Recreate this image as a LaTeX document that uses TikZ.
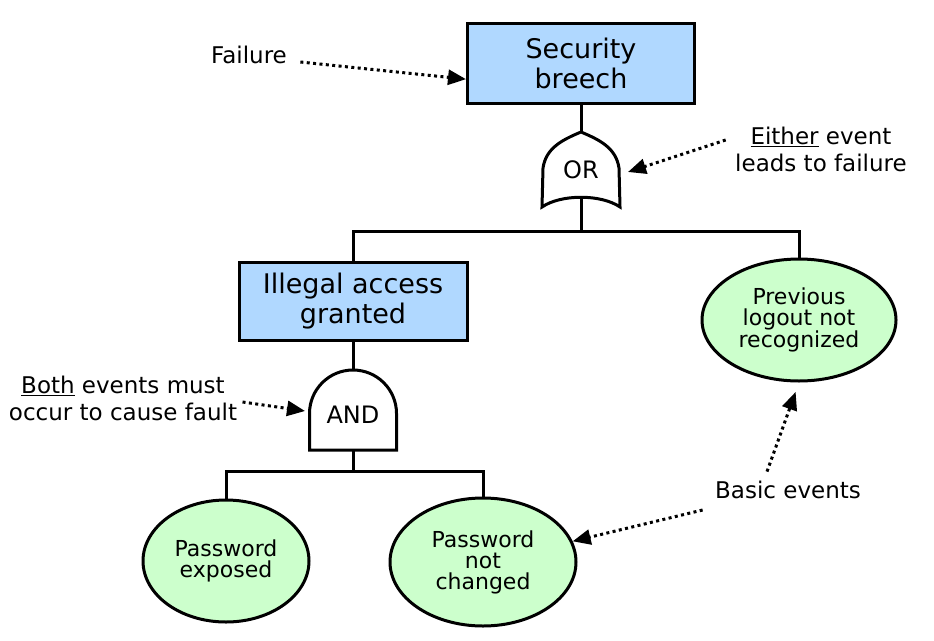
\documentclass[tikz,border=0pt]{standalone}
\usepackage{fontspec}
\setmainfont{DejaVu Sans}
\usetikzlibrary{arrows.meta,shapes.geometric}

\definecolor{eventblue}{RGB}{176,216,255}
\definecolor{basicgreen}{RGB}{204,255,204}

\tikzset{
  eventbox/.style={draw, line width=3pt, fill=eventblue, align=center, font=\fontsize{27}{30}\selectfont},
  basicevent/.style={ellipse, draw, line width=3pt, fill=basicgreen, align=center, inner sep=0pt, font=\fontsize{22}{21}\selectfont},
  gateshape/.style={draw, line width=3pt, fill=white},
  gatelabel/.style={font=\fontsize{24}{27}\selectfont},
  wire/.style={line width=3pt},
  pointer/.style={line width=3pt, dash pattern=on 3pt off 3.4pt, -{Triangle[length=18pt,width=15pt]}},
  remark/.style={align=center, font=\fontsize{23}{27}\selectfont},
}

\begin{document}
\begin{tikzpicture}[x=1pt, y=1pt]
    \useasboundingbox (0,0) rectangle (934,-640);
    % events
    \node[eventbox, minimum width=227pt, minimum height=80pt] (breech) at (581,-63) {Security\\breech};
    \node[eventbox, minimum width=228pt, minimum height=78pt] (illegal) at (353,-301) {Illegal access\\granted};
    \node[basicevent, minimum width=194pt, minimum height=122pt] (prev) at (799,-320) {Previous\\logout not\\recognized};
    \node[basicevent, minimum width=166pt, minimum height=122pt] (exposed) at (226,-561) {Password\\exposed};
    \node[basicevent, minimum width=186pt, minimum height=128pt] (notchanged) at (483,-562) {Password\\not\\changed};
    % OR gate
    \coordinate (orIn) at (581,-132);
    \coordinate (orOut) at (581,-198);
    \coordinate (orJoin) at (581,-231);
    \coordinate (orSide) at (628,-172);
    \draw[gateshape] (orIn) .. controls (562,-140) and (546,-148) .. (543,-168) -- (542,-207)
        .. controls (561,-194) and (601,-194) .. (620,-207) -- (619,-168)
        .. controls (616,-148) and (600,-140) .. (orIn) -- cycle;
    \node[gatelabel] (orlabel) at (581,-170) {OR};
    % AND gate
    \coordinate (andIn) at (353,-370);
    \coordinate (andOut) at (353,-450);
    \coordinate (andJoin) at (353,-471);
    \coordinate (andSide) at (305,-411);
    \draw[gateshape] (309.5,-450) -- (309.5,-413.5) arc[start angle=180, end angle=0, radius=43.5] -- (396.5,-450) -- cycle;
    \node[gatelabel] (andlabel) at (353,-415) {AND};
    % tree
    \draw[wire] (breech.south) -- (orIn);
    \draw[wire] (orOut) -- (orJoin);
    \draw[wire] (illegal.north) |- (orJoin) -| (prev.north);
    \draw[wire] (illegal.south) -- (andIn);
    \draw[wire] (andOut) -- (andJoin);
    \draw[wire] (exposed.north) |- (andJoin) -| (notchanged.north);
    % notes
    \node[remark] (failure) at (249,-55) {Failure};
    \node[remark] (either) at (821,-149) {\underline{Either} event\\leads to failure};
    \node[remark] (both) at (123,-398) {\underline{Both} events must\\occur to cause fault};
    \node[remark] (basicnote) at (788,-490) {Basic events};
    \draw[pointer] ([xshift=10pt,yshift=-7pt]failure.east) -- (breech.188);
    \draw[pointer] ([xshift=-6pt,yshift=9pt]either.west) -- (orSide);
    \draw[pointer] ([xshift=2pt,yshift=-4pt]both.east) -- (andSide);
    \draw[pointer, shorten >=10pt] ([xshift=-21pt,yshift=6pt]basicnote.north) -- (prev.south);
    \draw[pointer] ([xshift=-9pt,yshift=-20pt]basicnote.west) -- (notchanged.13);
\end{tikzpicture}
\end{document}
